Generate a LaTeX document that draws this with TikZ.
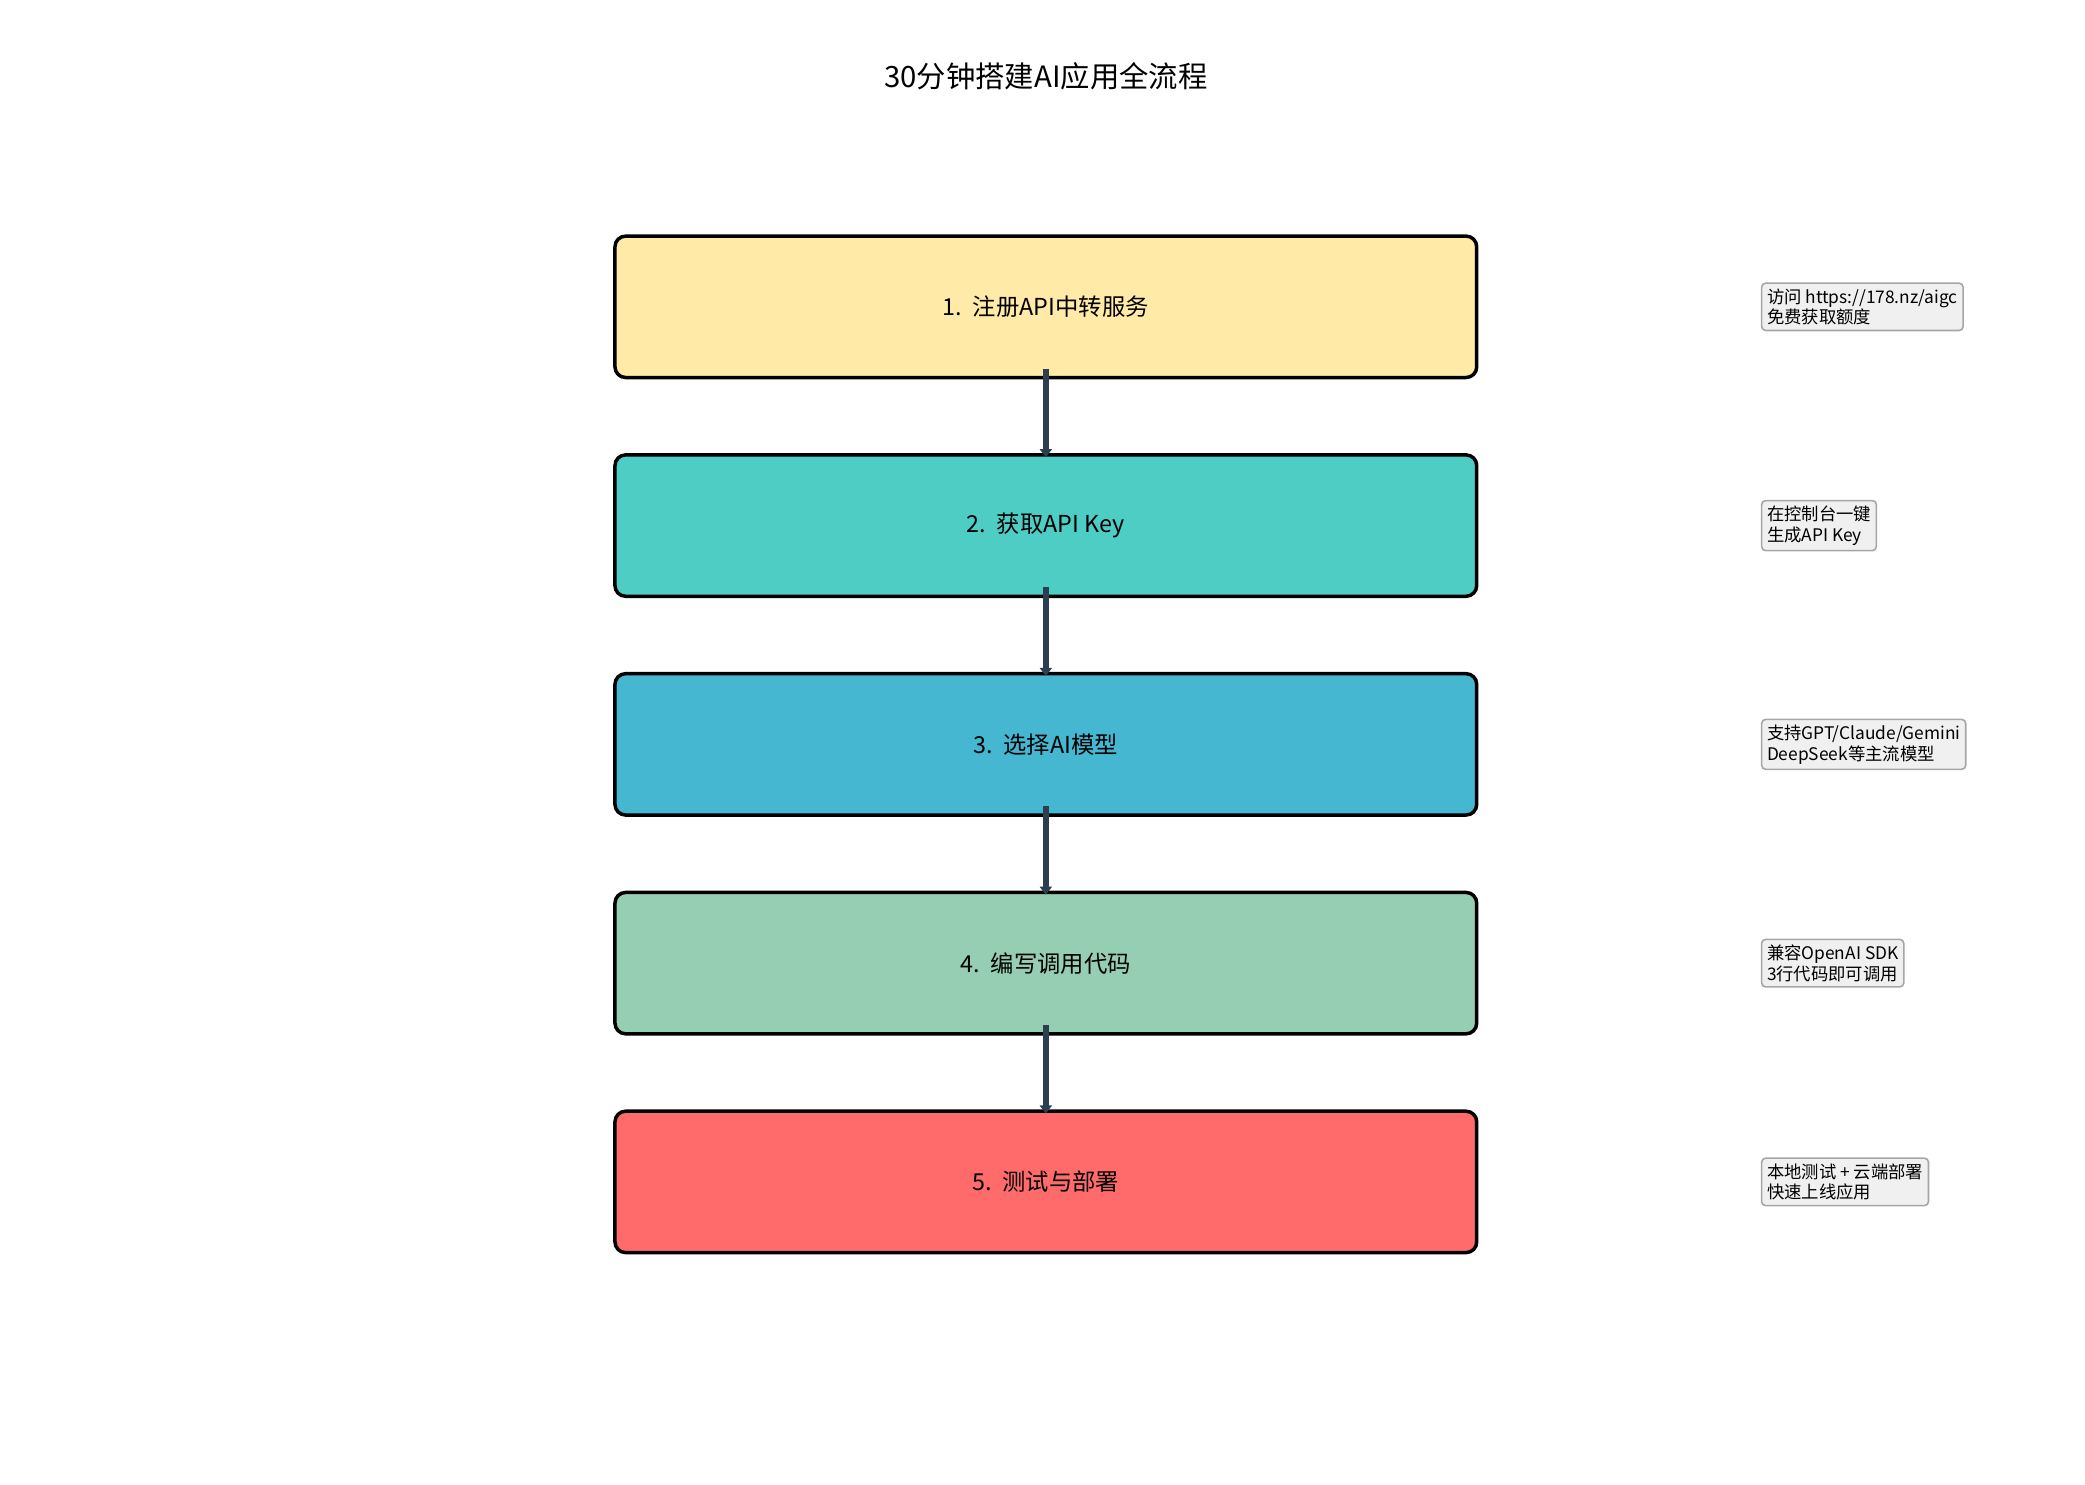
\documentclass[tikz,border=0pt]{standalone}
\usepackage{fontspec}
\setmainfont{Noto Sans CJK SC}
\usepackage{tikz}
\usetikzlibrary{arrows.meta,positioning,calc}
\definecolor{stepA}{HTML}{FFEAA7}
\definecolor{stepB}{HTML}{4ECDC4}
\definecolor{stepC}{HTML}{45B7D1}
\definecolor{stepD}{HTML}{96CEB4}
\definecolor{stepE}{HTML}{FF6B6B}
\definecolor{arrowc}{HTML}{2C3E50}
\begin{document}
\begin{tikzpicture}[x=1pt,y=-1pt,
    stepbox/.style={draw,line width=2.6pt,rounded corners=8pt,minimum width=646pt,minimum height=106pt,font=\fontsize{17.5}{20}\selectfont},
    note/.style={draw=gray!70,line width=1.2pt,fill=gray!12,rounded corners=3pt,font=\fontsize{13}{15.5}\selectfont,align=left,inner sep=4pt,anchor=west},
    flow/.style={draw=arrowc,line width=4.2pt,-{Triangle[length=6pt,width=9pt]}}
    ]
    %cadre
\useasboundingbox (0,0) rectangle (1563,1113);
\node[font=\fontsize{22}{25}\selectfont] (title) at (784,57) {30分钟搭建AI应用全流程};

\node[stepbox,fill=stepA] (register) at (784,230) {1.\ \ 注册API中转服务};
\node[stepbox,fill=stepB] (apikey)   at (784,394) {2.\ \ 获取API Key};
\node[stepbox,fill=stepC] (model)    at (784,558) {3.\ \ 选择AI模型};
\node[stepbox,fill=stepD] (code)     at (784,722) {4.\ \ 编写调用代码};
\node[stepbox,fill=stepE] (deploy)   at (784,886) {5.\ \ 测试与部署};

\node[note] (n1) at (1320,230) {访问 https://178.nz/aigc\\免费获取额度};
\node[note] (n2) at (1320,394) {在控制台一键\\生成API Key};
\node[note] (n3) at (1320,558) {支持GPT/Claude/Gemini\\DeepSeek等主流模型};
\node[note] (n4) at (1320,722) {兼容OpenAI SDK\\3行代码即可调用};
\node[note] (n5) at (1320,886) {本地测试 + 云端部署\\快速上线应用};

\draw[flow] ($(register.south)+(0,-8)$) -- ($(apikey.north)+(0,3)$);
\draw[flow] ($(apikey.south)+(0,-8)$) -- ($(model.north)+(0,3)$);
\draw[flow] ($(model.south)+(0,-8)$) -- ($(code.north)+(0,3)$);
\draw[flow] ($(code.south)+(0,-8)$) -- ($(deploy.north)+(0,3)$);
\end{tikzpicture}
\end{document}
